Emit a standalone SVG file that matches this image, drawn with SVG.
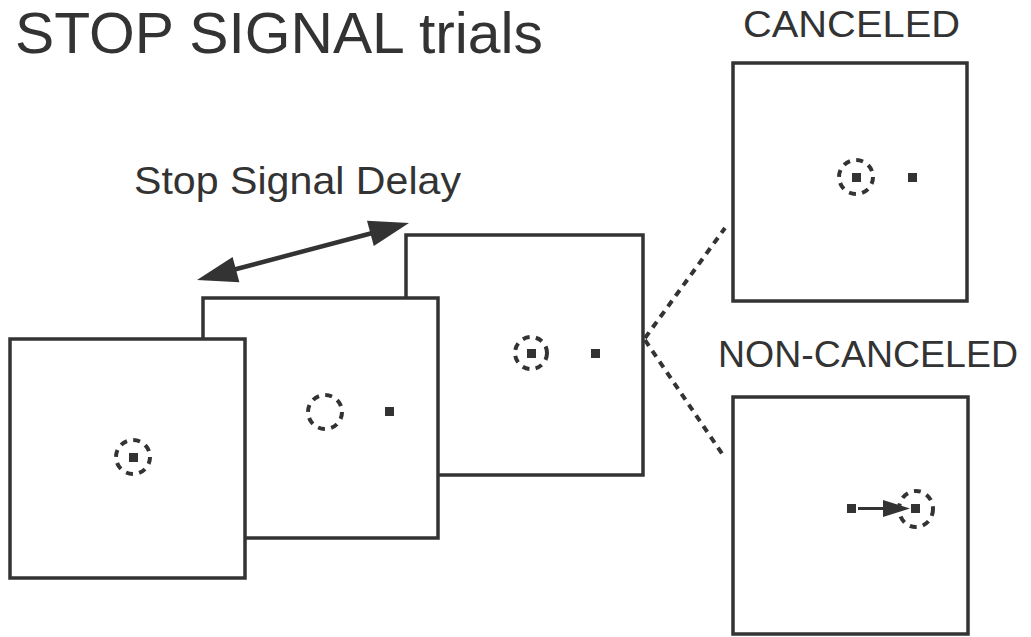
<svg xmlns="http://www.w3.org/2000/svg" width="1031" height="637" viewBox="0 0 1031 637">
  <style>
    .frame { fill: #ffffff; stroke: #333333; stroke-width: 3.5; }
    .fix { fill: none; stroke: #333333; stroke-width: 4; stroke-dasharray: 7 6.3; }
    .dot { fill: #333333; }
    .lbl { font-family: "Liberation Sans", Arial, sans-serif; fill: #333333; }
    .link { stroke: #333333; stroke-width: 4; stroke-dasharray: 7 6; fill: none; }
  </style>
  <rect width="1031" height="637" fill="#ffffff"/>

  <text class="lbl" x="15" y="53" font-size="57" textLength="528" lengthAdjust="spacingAndGlyphs">STOP SIGNAL trials</text>

  <!-- trial sequence: later screens sit behind earlier ones -->
  <g id="screen-signal">
    <rect class="frame" x="406" y="235" width="237" height="240"/>
    <circle class="fix" cx="531" cy="353" r="16"/>
    <rect class="dot" x="527" y="349" width="9" height="9"/>
    <rect class="dot" x="591" y="349" width="9" height="9"/>
  </g>
  <g id="screen-target">
    <rect class="frame" x="203" y="298" width="235" height="240"/>
    <circle class="fix" cx="325" cy="412" r="17"/>
    <rect class="dot" x="385" y="407" width="9" height="9"/>
  </g>
  <g id="screen-fixation">
    <rect class="frame" x="10" y="339" width="235" height="239"/>
    <circle class="fix" cx="133" cy="457" r="17"/>
    <rect class="dot" x="129" y="453" width="9" height="9"/>
  </g>

  <g id="delay-label">
    <text class="lbl" x="134" y="194" font-size="39" textLength="327" lengthAdjust="spacingAndGlyphs">Stop Signal Delay</text>
  </g>

  <g id="outcome-canceled">
    <text class="lbl" x="743" y="37" font-size="36" textLength="217" lengthAdjust="spacingAndGlyphs">CANCELED</text>
    <rect class="frame" x="733" y="63" width="234" height="238"/>
    <circle class="fix" cx="856" cy="177" r="17"/>
    <rect class="dot" x="852" y="173" width="9" height="9"/>
    <rect class="dot" x="908" y="173" width="9" height="9"/>
  </g>

  <g id="outcome-noncanceled">
    <text class="lbl" x="718" y="367" font-size="36" textLength="300" lengthAdjust="spacingAndGlyphs">NON-CANCELED</text>
    <rect class="frame" x="733" y="397" width="235" height="237"/>
    <ellipse class="fix" cx="916" cy="509" rx="17" ry="18"/>
    <rect class="dot" x="847" y="504" width="9" height="9"/>
    <rect class="dot" x="911" y="504" width="9" height="9"/>
  </g>

  <g id="connectors">
    <!-- stop signal delay double arrow -->
    <line x1="225" y1="272" x2="380" y2="231" stroke="#333333" stroke-width="4.5"/>
    <polygon points="197,280 232.6,257 239.4,282.2" fill="#333333"/>
    <polygon points="409,223 367,220.8 373.8,246" fill="#333333"/>
    <!-- saccade in the non-canceled screen -->
    <line x1="858" y1="508.5" x2="890" y2="508.5" stroke="#333333" stroke-width="3"/>
    <polygon points="910,508.5 883,500 883,517" fill="#333333"/>
    <!-- outcome branches -->
    <line class="link" x1="645" y1="338" x2="725" y2="228"/>
    <line class="link" x1="645" y1="340" x2="725" y2="458"/>
  </g>
</svg>
